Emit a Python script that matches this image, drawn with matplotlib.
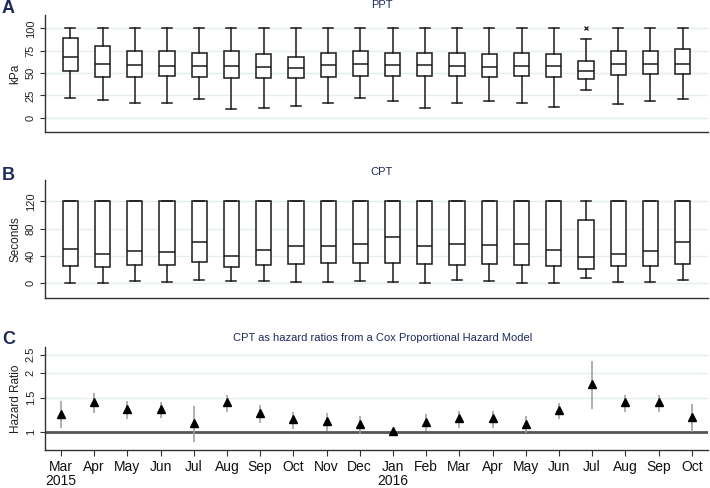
import matplotlib
matplotlib.use("Agg")
import matplotlib.pyplot as plt
import numpy as np

plt.rcParams['font.family'] = ['Liberation Sans', 'DejaVu Sans']

months = ["Mar\n2015", "Apr", "May", "Jun", "Jul", "Aug", "Sep", "Oct", "Nov", "Dec",
          "Jan\n2016", "Feb", "Mar", "Apr", "May", "Jun", "Jul", "Aug", "Sep", "Oct"]

# --- Panel A: PPT (kPa) ---
ppt_lo  = [22, 19.5, 17, 17, 21.3, 9.4, 10.9, 13.5, 17, 21.7, 18.7, 11.2, 16.5, 18.4, 16.9, 12.4, 31, 15, 18.7, 21]
ppt_q1  = [52.8, 46, 46, 47, 46, 45, 44.6, 44.6, 46, 47, 47, 46.4, 46.4, 46, 46.8, 46, 43.8, 47.6, 48.7, 49]
ppt_med = [68.5, 60, 59, 58.4, 58.4, 58, 57, 56.2, 58.8, 60, 59, 58.8, 58, 56.6, 57.7, 57.7, 52.4, 60, 60, 60]
ppt_q3  = [89, 80, 75, 74.5, 73, 74.5, 70.8, 68.5, 73, 74.5, 73, 73, 72.3, 71.5, 72.3, 71.5, 63.7, 74.2, 75, 77.2]
ppt_hi  = [100, 100, 100, 100, 100, 100, 100, 100, 100, 100, 100, 100, 100, 100, 100, 100, 88, 100, 100, 100]
ppt_out = {16: [100]}

# --- Panel B: CPT (seconds) ---
cpt_lo  = [1, 1, 3.4, 2, 4.4, 2.9, 3.4, 1.5, 2, 3.4, 2.4, 0.5, 4.9, 3.4, 1, 0.5, 7.8, 2, 2.4, 5.4]
cpt_q1  = [25.4, 23.4, 26.3, 26.3, 30.7, 23.9, 26.3, 27.8, 29.8, 29.8, 29.3, 27.8, 27.3, 27.8, 27.3, 25.4, 20.5, 24.9, 25.9, 27.8]
cpt_med = [50.2, 43, 47.3, 45.9, 60, 40, 48.8, 54.1, 54.6, 58, 67.3, 54.6, 57, 55.6, 58, 48.8, 38, 43, 47.8, 60]
cpt_q3  = [120, 120, 120, 120, 120, 120, 120, 120, 120, 120, 120, 120, 120, 120, 120, 120, 92.7, 120, 120, 120]
cpt_hi  = [120] * 20

# --- Panel C: hazard ratios ---
hr    = [1.234, 1.417, 1.304, 1.304, 1.113, 1.417, 1.248, 1.167, 1.139, 1.095,
         1.008, 1.122, 1.172, 1.172, 1.091, 1.299, 1.756, 1.417, 1.417, 1.195]
hr_lo = [1.045, 1.243, 1.158, 1.172, 0.888, 1.263, 1.113, 1.036, 1.004, 0.973,
         0.99, 1.012, 1.04, 1.049, 0.98, 1.167, 1.304, 1.263, 1.263, 1.0]
hr_hi = [1.445, 1.589, 1.44, 1.428, 1.357, 1.546, 1.373, 1.268, 1.253, 1.209,
         1.02, 1.229, 1.283, 1.278, 1.2, 1.412, 2.325, 1.546, 1.546, 1.389]

navy = '#1f2a5c'
grid_c = '#e4edf0'
axis_c = '#333333'

fig = plt.figure(figsize=(7.1, 4.88), dpi=100)


def style_axes(ax):
    for s in ['top', 'right']:
        ax.spines[s].set_visible(False)
    for s in ['left', 'bottom']:
        ax.spines[s].set_color(axis_c)
        ax.spines[s].set_linewidth(1.0)
    ax.tick_params(axis='y', direction='out', length=3.6, width=0.8, color=axis_c,
                   labelsize=8, labelcolor='#222222', pad=3, labelrotation=90)
    for lab in ax.get_yticklabels():
        lab.set_va('center')
    ax.set_axisbelow(True)
    ax.grid(axis='y', color=grid_c, linewidth=1.0)
    ax.grid(axis='x', visible=False)


def box_panel(ax, lo, q1, med, q3, hi, out=None):
    out = out or {}
    stats = []
    for i in range(len(med)):
        stats.append(dict(whislo=lo[i], q1=q1[i], med=med[i], q3=q3[i], whishi=hi[i],
                          fliers=out.get(i, [])))
    pos = np.arange(1, len(med) + 1)
    line = dict(color='#1a1a1a', linewidth=1.1)
    ax.bxp(stats, positions=pos, widths=0.47, capwidths=0.31, patch_artist=True,
           boxprops=dict(facecolor='white', edgecolor='#1a1a1a', linewidth=1.1),
           medianprops=line, whiskerprops=line, capprops=line,
           flierprops=dict(marker='x', markersize=2.5, markeredgecolor='#1a1a1a',
                           markeredgewidth=0.9))
    ax.set_xlim(1 - 0.786, len(med) + 0.786)
    ax.set_xticks([])


# Panel A
axA = fig.add_axes([45 / 710, 1 - 132 / 488, 663 / 710, 117 / 488])
box_panel(axA, ppt_lo, ppt_q1, ppt_med, ppt_q3, ppt_hi, ppt_out)
axA.set_ylim(-16, 115)
axA.set_yticks([0, 25, 50, 75, 100])
style_axes(axA)
axA.set_ylabel('kPa', fontsize=8.5, color='#222222', labelpad=3)

# Panel B
axB = fig.add_axes([45 / 710, 1 - 297.7 / 488, 663 / 710, 117.7 / 488])
box_panel(axB, cpt_lo, cpt_q1, cpt_med, cpt_q3, cpt_hi)
axB.set_ylim(-21, 151)
axB.set_yticks([0, 40, 80, 120])
style_axes(axB)
axB.set_ylabel('Seconds', fontsize=8.5, color='#222222', labelpad=3)

# Panel C
axC = fig.add_axes([45 / 710, 1 - 450 / 488, 663 / 710, 103.3 / 488])
x = np.arange(1, len(hr) + 1)
axC.set_yscale('log')
axC.set_ylim(0.804, 2.745)
axC.set_yticks([1, 1.5, 2, 2.5])
axC.set_yticklabels(['1', '1.5', '2', '2.5'])
axC.yaxis.set_minor_locator(matplotlib.ticker.NullLocator())
axC.axhline(1, color='#555555', linewidth=2.0, zorder=2)
axC.vlines(x, hr_lo, hr_hi, color='#9a9a9a', linewidth=1.1, zorder=3)
axC.plot(x, hr, linestyle='none', marker='^', markersize=6, color='black', zorder=4)
axC.set_xlim(0.52, len(hr) + 0.49)
axC.set_xticks(x)
axC.set_xticklabels(months, fontsize=10, color='#111111', linespacing=0.95)
axC.tick_params(axis='x', direction='out', length=4.3, width=0.8, color=axis_c, pad=3)
style_axes(axC)
axC.set_ylabel('Hazard Ratio', fontsize=8.5, color='#222222', labelpad=3)

# Titles and panel letters
fig.text(382 / 710, 1 - 5.5 / 488, 'PPT', ha='center', va='center', fontsize=8, color=navy)
fig.text(382 / 710, 1 - 171.7 / 488, 'CPT', ha='center', va='center', fontsize=8, color=navy)
fig.text(383 / 710, 1 - 338 / 488, 'CPT as hazard ratios from a Cox Proportional Hazard Model',
         ha='center', va='center', fontsize=8, color=navy)
fig.text(2 / 710, 1 - 8.3 / 488, 'A', ha='left', va='center', fontsize=13, fontweight='bold', color=navy)
fig.text(2 / 710, 1 - 175.5 / 488, 'B', ha='left', va='center', fontsize=13, fontweight='bold', color=navy)
fig.text(2 / 710, 1 - 340 / 488, 'C', ha='left', va='center', fontsize=13, fontweight='bold', color=navy)

fig.savefig('out.png', dpi=100)
